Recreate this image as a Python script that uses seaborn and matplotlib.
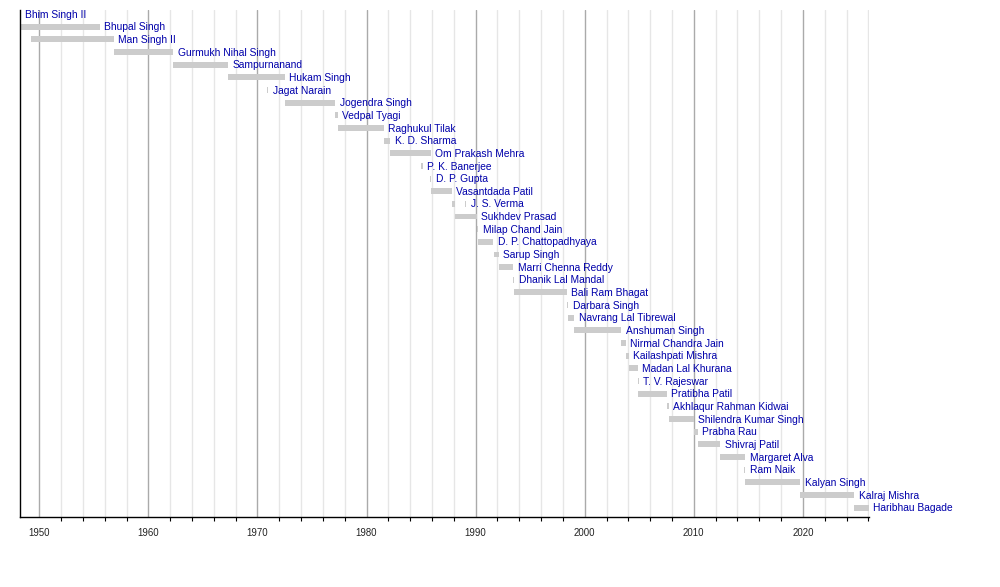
import numpy as np
import pandas as pd
import matplotlib
matplotlib.use("Agg")
import matplotlib.pyplot as plt
import seaborn as sns

# Governors, top to bottom
names = ["Bhim Singh II", "Bhupal Singh", "Man Singh II", "Gurmukh Nihal Singh",
         "Sampurnanand", "Hukam Singh", "Jagat Narain", "Jogendra Singh",
         "Vedpal Tyagi", "Raghukul Tilak", "K. D. Sharma", "Om Prakash Mehra",
         "P. K. Banerjee", "D. P. Gupta", "Vasantdada Patil", "J. S. Verma",
         "Sukhdev Prasad", "Milap Chand Jain", "D. P. Chattopadhyaya", "Sarup Singh",
         "Marri Chenna Reddy", "Dhanik Lal Mandal", "Bali Ram Bhagat", "Darbara Singh",
         "Navrang Lal Tibrewal", "Anshuman Singh", "Nirmal Chandra Jain",
         "Kailashpati Mishra", "Madan Lal Khurana", "T. V. Rajeswar", "Pratibha Patil",
         "Akhlaqur Rahman Kidwai", "Shilendra Kumar Singh", "Prabha Rau",
         "Shivraj Patil", "Margaret Alva", "Ram Naik", "Kalyan Singh",
         "Kalraj Mishra", "Haribhau Bagade"]

# terms (decimal years); J. S. Verma has two terms
term_name = names[:16] + ["J. S. Verma"] + names[16:]
term_start = [1948.23, 1948.29, 1949.24, 1956.83, 1962.29, 1967.29, 1970.88, 1972.50,
              1977.15, 1977.36, 1981.60, 1982.18, 1985.01, 1985.84, 1985.88, 1987.82,
              1989.07, 1988.14, 1990.08, 1990.20, 1991.65, 1992.10, 1993.43, 1993.52,
              1998.38, 1998.45, 1999.05, 2003.37, 2003.75, 2004.05, 2004.84, 2004.90,
              2007.50, 2007.72, 2009.98, 2010.35, 2012.40, 2014.62, 2014.70, 2019.70,
              2024.72]
term_end = [1948.29, 1955.57, 1956.83, 1962.29, 1967.29, 1972.50, 1971.00, 1977.15,
            1977.36, 1981.60, 1982.18, 1985.88, 1985.13, 1985.94, 1987.82, 1988.14,
            1989.15, 1990.10, 1990.25, 1991.62, 1992.10, 1993.46, 1993.55, 1998.38,
            1998.50, 1999.05, 2003.37, 2003.75, 2004.05, 2004.87, 2004.94, 2007.52,
            2007.72, 2009.98, 2010.35, 2012.42, 2014.70, 2014.73, 2019.75, 2024.72,
            2026.06]

period_start, period_end = 1948.26, 2026.06

df = pd.DataFrame({"name": term_name, "start": term_start, "end": term_end})
df["row"] = df["name"].map({n: i for i, n in enumerate(names)})

sns.set_theme(style="white")
plt.rcParams["font.family"] = ["Liberation Sans", "DejaVu Sans"]

fig = plt.figure(figsize=(10, 5.87), dpi=100)
ax = fig.add_axes([0.0203, 0.1193, 0.8487, 0.8637])

ax.barh(df["row"], df["end"] - df["start"], left=df["start"], height=0.47,
        color="#cccccc", edgecolor="none", zorder=2)

last_end = df.groupby("row")["end"].max()
for row, end in last_end.items():
    ax.annotate(names[row], (min(end, period_end), row), xytext=(3.2, -2.6),
                textcoords="offset points", ha="left", va="baseline",
                fontsize=7.4, color="#0000aa", annotation_clip=False)

ax.set_xlim(period_start, period_end)
ax.set_ylim(39.74, -0.32)
ax.set_yticks([])

ax.set_xticks(np.arange(1950, 2021, 10))
ax.set_xticks(np.arange(1950, 2027, 2), minor=True)
ax.grid(which="major", axis="x", color="#aaaaaa", lw=1)
ax.grid(which="minor", axis="x", color="#e6e6e6", lw=1)
ax.set_axisbelow(True)
ax.tick_params(axis="x", which="major", length=0, pad=8, labelsize=6.9, labelcolor="#222222")
ax.tick_params(axis="x", which="minor", length=3, width=0.8, color="black", bottom=True)

sns.despine(ax=ax, top=True, right=True)
for s in ["left", "bottom"]:
    ax.spines[s].set_color("black")
    ax.spines[s].set_linewidth(1)

fig.savefig("out.png", dpi=100)
